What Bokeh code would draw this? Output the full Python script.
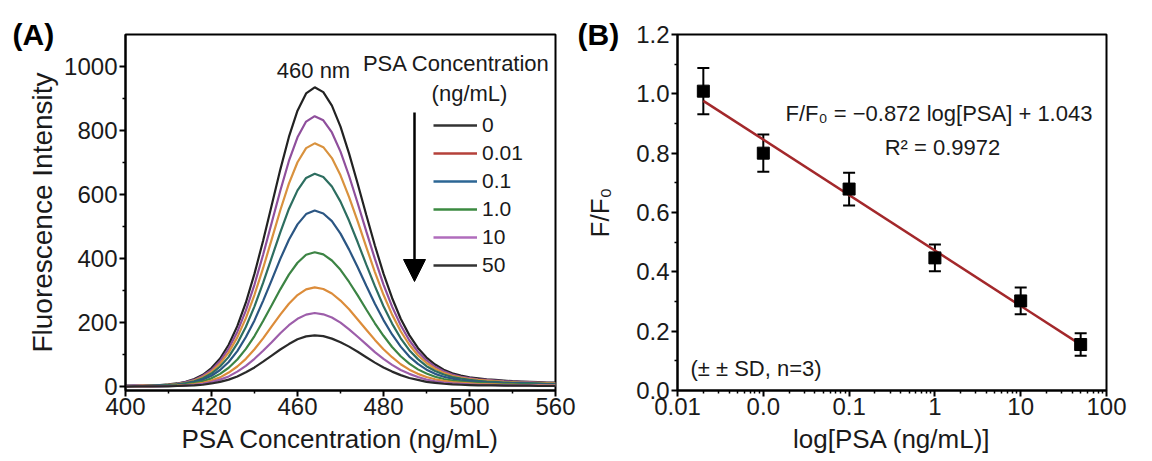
import numpy as np
from bokeh.plotting import figure
from bokeh.layouts import row
from bokeh.models import (ColumnDataSource, FixedTicker, Range1d, Whisker, TeeHead,
                          Arrow, NormalHead, Label, Legend, LegendItem)
from bokeh.embed import file_html
from bokeh.resources import INLINE

FONT = "Liberation Sans"
INK = "#1a1a1a"

# ---------------- Panel A : emission spectra ----------------
wavelength = [400, 402, 404, 406, 408, 410, 412, 414, 416, 418, 420, 422, 424, 426, 428, 430, 432,
              434, 436, 438, 440, 442, 444, 446, 448, 450, 452, 454, 456, 458, 460, 462, 464, 466,
              468, 470, 472, 474, 476, 478, 480, 482, 484, 486, 488, 490, 492, 494, 496, 498, 500]
spectrum_1 = [3, 3, 3, 4, 5, 7, 10, 15, 24, 37, 58, 88, 131, 189, 263, 353, 456,
              567, 678, 780, 862, 916, 935, 920, 878, 812, 728, 634, 536, 441, 353, 277, 212, 161,
              121, 91, 69, 53, 42, 35, 29, 26, 23, 21, 19, 17, 16, 15, 14, 13, 13]
spectrum_2 = [2, 3, 3, 4, 5, 6, 9, 14, 21, 34, 52, 80, 119, 171, 238, 319, 412,
              512, 612, 705, 779, 828, 845, 832, 794, 734, 658, 573, 485, 399, 319, 250, 192, 145,
              109, 82, 62, 48, 38, 31, 27, 23, 21, 19, 17, 16, 15, 14, 13, 12, 11]
spectrum_3 = [2, 2, 3, 3, 4, 6, 8, 12, 19, 30, 47, 72, 107, 154, 214, 287, 370,
              460, 551, 634, 701, 745, 760, 748, 714, 660, 592, 516, 436, 358, 287, 225, 173, 131,
              98, 74, 56, 43, 34, 28, 24, 21, 19, 17, 15, 14, 13, 12, 12, 11, 10]
spectrum_4 = [2, 2, 2, 3, 4, 5, 7, 11, 17, 26, 41, 63, 93, 135, 187, 251, 324,
              403, 482, 555, 613, 652, 665, 655, 625, 578, 518, 451, 381, 314, 251, 197, 151, 114,
              86, 64, 49, 38, 30, 25, 21, 18, 16, 15, 13, 12, 12, 11, 10, 9, 9]
spectrum_5 = [2, 2, 2, 2, 3, 4, 6, 9, 14, 22, 34, 52, 77, 111, 155, 207, 268,
              333, 399, 459, 507, 539, 550, 541, 517, 478, 428, 373, 315, 259, 208, 163, 125, 94,
              71, 53, 40, 31, 25, 20, 17, 15, 13, 12, 11, 10, 10, 9, 8, 8, 7]
spectrum_6 = [1, 1, 2, 2, 2, 3, 4, 7, 11, 17, 26, 40, 59, 85, 118, 158, 205,
              254, 304, 350, 387, 412, 420, 413, 394, 365, 327, 285, 241, 198, 159, 124, 95, 72,
              54, 41, 31, 24, 19, 16, 13, 12, 10, 9, 9, 8, 7, 7, 6, 6, 6]
spectrum_7 = [1, 1, 1, 1, 2, 2, 3, 5, 8, 12, 19, 29, 44, 63, 87, 117, 151,
              188, 225, 259, 286, 304, 310, 305, 291, 269, 242, 210, 178, 146, 117, 92, 70, 53,
              40, 30, 23, 18, 14, 12, 10, 8, 8, 7, 6, 6, 5, 5, 5, 4, 4]
spectrum_8 = [1, 1, 1, 1, 1, 2, 2, 4, 6, 9, 14, 22, 32, 47, 65, 87, 112,
              139, 167, 192, 212, 225, 230, 226, 216, 200, 179, 156, 132, 108, 87, 68, 52, 40,
              30, 22, 17, 13, 10, 9, 7, 6, 6, 5, 5, 4, 4, 4, 3, 3, 3]
spectrum_9 = [0, 1, 1, 1, 1, 1, 2, 3, 4, 6, 10, 15, 22, 32, 45, 60, 78,
              97, 116, 133, 148, 157, 160, 158, 150, 139, 125, 109, 92, 75, 60, 47, 36, 27,
              21, 15, 12, 9, 7, 6, 5, 4, 4, 4, 3, 3, 3, 3, 2, 2, 2]
spectra = [spectrum_1, spectrum_2, spectrum_3, spectrum_4, spectrum_5,
           spectrum_6, spectrum_7, spectrum_8, spectrum_9]
curve_colors = ["#222222", "#8f4f9c", "#d9923e", "#2d6e60", "#2b5683",
                "#3c8444", "#dc8c3a", "#9d5eaa", "#2a2a2a"]

legend_labels = ["0", "0.01", "0.1", "1.0", "10", "50"]
legend_colors = ["#333333", "#b5413a", "#2c6694", "#3b8a40", "#b06cbc", "#333333"]

a_x_ticks = [400, 420, 440, 460, 480, 500]
a_x_labels = ["400", "420", "460", "480", "500", "560"]
a_x_minor = [410, 430, 450, 470, 490]
a_y_ticks = [0, 200, 400, 600, 800, 1000]
a_y_minor = [100, 300, 500, 700, 900]

# ---------------- Panel B : calibration ----------------
psa = [0.002, 0.01, 0.1, 1, 10, 50]
ratio = [1.009, 0.800, 0.679, 0.447, 0.302, 0.155]
sd = [0.078, 0.063, 0.055, 0.045, 0.045, 0.038]

b_x_ticks = [0.001, 0.01, 0.1, 1, 10, 100]
b_x_labels = ["0.01", "0.0", "0.1", "1", "10", "100"]
b_y_ticks = [0.0, 0.2, 0.4, 0.6, 0.8, 1.0, 1.2]
b_y_labels = ["0.0", "0.2", "0.4", "0.6", "0.8", "1.0", "1.2"]
b_y_minor = [0.1, 0.3, 0.5, 0.7, 0.9, 1.1]


def style(p):
    for ax in (p.xaxis[0], p.yaxis[0]):
        ax.axis_line_width = 2
        ax.axis_line_color = "black"
        ax.major_tick_line_width = 2
        ax.minor_tick_line_width = 1.5
        ax.major_tick_in = 0
        ax.major_tick_out = 6
        ax.minor_tick_in = 0
        ax.minor_tick_out = 3
        ax.major_label_text_font = FONT
        ax.major_label_text_font_size = "24px"
        ax.major_label_text_color = INK
        ax.major_label_standoff = 2
        ax.axis_label_text_font = FONT
        ax.axis_label_text_font_size = "26px"
        ax.axis_label_text_font_style = "normal"
        ax.axis_label_text_color = INK
    p.xaxis[0].major_label_standoff = 1
    p.xaxis[0].axis_label_standoff = 6
    p.xgrid.visible = False
    p.ygrid.visible = False
    p.outline_line_color = "black"
    p.outline_line_width = 2
    p.outline_line_alpha = 1
    p.background_fill_color = "white"
    p.border_fill_color = "white"
    p.title.align = "left"
    p.title.vertical_align = "bottom"
    p.title.standoff = -32
    p.title.text_font = FONT
    p.title.text_font_size = "30px"
    p.title.text_font_style = "bold"
    p.title.text_color = "black"


# ---------------- build A ----------------
pA = figure(width=576, height=461, x_range=Range1d(400, 500), y_range=Range1d(-12, 1100),
            output_backend="svg", toolbar_location=None, title="(A)",
            min_border_left=125, min_border_right=21, min_border_top=34, min_border_bottom=71,
            x_axis_label="PSA Concentration (ng/mL)", y_axis_label="Fluorescence Intensity")
style(pA)
pA.title.offset = -113
pA.xaxis[0].ticker = FixedTicker(ticks=a_x_ticks, minor_ticks=a_x_minor)
pA.xaxis[0].major_label_overrides = {t: l for t, l in zip(a_x_ticks, a_x_labels)}
pA.yaxis[0].ticker = FixedTicker(ticks=a_y_ticks, minor_ticks=a_y_minor)
pA.yaxis[0].axis_label_text_font_size = "28px"
pA.yaxis[0].axis_label_standoff = 3

for ys, c in zip(spectra, curve_colors):
    pA.line(wavelength, ys, line_color=c, line_width=2.2)

legend_renderers = [pA.line([float("nan")], [float("nan")], line_color=c, line_width=2.4)
                    for c in legend_colors]
legend = Legend(items=[LegendItem(label=l, renderers=[r]) for l, r in zip(legend_labels, legend_renderers)],
                location=(308, 111), glyph_width=44, glyph_height=28, label_height=28,
                spacing=0, padding=0, margin=0, label_standoff=5,
                border_line_alpha=0, background_fill_alpha=0,
                label_text_font=FONT, label_text_font_size="21px", label_text_color=INK)
pA.add_layout(legend, "center")

pA.add_layout(Label(x=456 - 125, y=390 - 63, x_units="screen", y_units="screen",
                    text="PSA Concentration", text_align="center", text_baseline="middle",
                    text_font=FONT, text_font_size="22px", text_color=INK))
pA.add_layout(Label(x=469 - 125, y=390 - 93, x_units="screen", y_units="screen",
                    text="(ng/mL)", text_align="center", text_baseline="middle",
                    text_font=FONT, text_font_size="22px", text_color=INK))
pA.add_layout(Label(x=313 - 125, y=390 - 70, x_units="screen", y_units="screen",
                    text="460 nm", text_align="center", text_baseline="middle",
                    text_font=FONT, text_font_size="22px", text_color=INK))
pA.add_layout(Arrow(x_start=414 - 125, y_start=390 - 112, x_end=414 - 125, y_end=390 - 281,
                    start_units="screen", end_units="screen",
                    line_width=2.5, line_color="black",
                    end=NormalHead(size=22, fill_color="black", line_color="black")))

# ---------------- build B ----------------
pB = figure(width=576, height=461, x_axis_type="log", x_range=Range1d(0.001, 100), y_range=Range1d(0, 1.2),
            output_backend="svg", toolbar_location=None, title="(B)",
            min_border_left=101, min_border_right=46, min_border_top=34, min_border_bottom=71,
            x_axis_label="log[PSA (ng/mL)]", y_axis_label="F/F₀")
style(pB)
pB.title.offset = -100
b_x_minor = [m * t for t in b_x_ticks[:-1] for m in range(2, 10)]
pB.xaxis[0].ticker = FixedTicker(ticks=b_x_ticks, minor_ticks=b_x_minor)
pB.xaxis[0].major_label_overrides = {t: l for t, l in zip(b_x_ticks, b_x_labels)}
pB.yaxis[0].ticker = FixedTicker(ticks=b_y_ticks, minor_ticks=b_y_minor)
pB.yaxis[0].major_label_overrides = {t: l for t, l in zip(b_y_ticks, b_y_labels)}
pB.yaxis[0].axis_label_standoff = 18

slope, intercept = np.polyfit(np.log10(psa), ratio, 1)
fit_x = [min(psa), max(psa)]
fit_y = [slope * np.log10(v) + intercept for v in fit_x]
pB.line(fit_x, fit_y, line_color="#a3282b", line_width=2.5)

src = ColumnDataSource(dict(x=psa, y=ratio,
                            upper=[r + s for r, s in zip(ratio, sd)],
                            lower=[r - s for r, s in zip(ratio, sd)]))
pB.add_layout(Whisker(source=src, base="x", upper="upper", lower="lower",
                      line_width=2, line_color="black",
                      upper_head=TeeHead(size=12, line_width=2, line_color="black"),
                      lower_head=TeeHead(size=12, line_width=2, line_color="black")))
pB.scatter("x", "y", source=src, marker="square", size=12, color="black")

pB.add_layout(Label(x=108, y=390 - 113, x_units="screen", y_units="screen",
                    text="F/F₀ = −0.872 log[PSA] + 1.043", text_align="left", text_baseline="middle",
                    text_font=FONT, text_font_size="22px", text_color=INK))
pB.add_layout(Label(x=942 - 677, y=390 - 147, x_units="screen", y_units="screen",
                    text="R² = 0.9972", text_align="center", text_baseline="middle",
                    text_font=FONT, text_font_size="22px", text_color=INK))
pB.add_layout(Label(x=13, y=22, x_units="screen", y_units="screen",
                    text="(± ± SD, n=3)", text_align="left", text_baseline="middle",
                    text_font=FONT, text_font_size="22px", text_color=INK))

layout = row(pA, pB, spacing=0)
open("out.html", "w").write(file_html(layout, INLINE))
